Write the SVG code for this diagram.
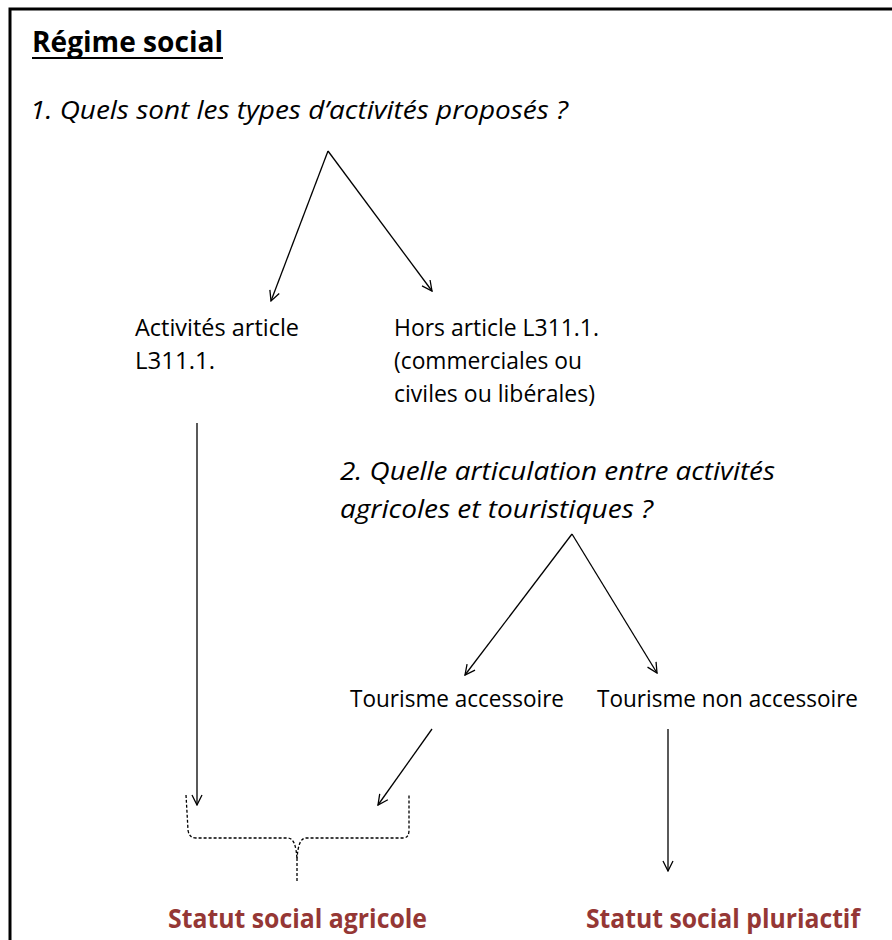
<svg xmlns="http://www.w3.org/2000/svg" width="892" height="940" viewBox="0 0 892 940">
<style>
text{font-family:"Open Sans","Liberation Sans",sans-serif;fill:#000}
.q{font-style:italic;font-size:26px}
.n{font-size:23px}
.r{font-weight:bold;font-size:27px;fill:#953735}
.c{stroke:#000;stroke-width:1.3;fill:none;marker-end:url(#ah)}
</style>
<defs>
<marker id="ah" viewBox="0 0 12 12" refX="11" refY="6" markerWidth="12" markerHeight="12" markerUnits="userSpaceOnUse" orient="auto">
<path d="M1,1 L11,6 L1,11" fill="none" stroke="#000" stroke-width="1.3"/>
</marker>
</defs>
<rect width="892" height="940" fill="#fff"/>
<path d="M10,940 V9 H892" fill="none" stroke="#000" stroke-width="3"/>
<g id="title">
<text x="32" y="52" font-size="28" font-weight="bold" textLength="191" lengthAdjust="spacingAndGlyphs">Régime social</text>
<line x1="32" y1="58" x2="223" y2="58" stroke="#000" stroke-width="2"/>
</g>
<g id="q1"><text class="q" x="30" y="119" textLength="538" lengthAdjust="spacingAndGlyphs">1. Quels sont les types d’activités proposés ?</text></g>
<g id="n-art">
<text class="n" x="135" y="336" textLength="164" lengthAdjust="spacingAndGlyphs">Activités article</text>
<text class="n" x="135" y="369" textLength="80" lengthAdjust="spacingAndGlyphs">L311.1.</text>
</g>
<g id="n-hors">
<text class="n" x="394" y="336" textLength="205" lengthAdjust="spacingAndGlyphs">Hors article L311.1.</text>
<text class="n" x="394" y="369" textLength="188" lengthAdjust="spacingAndGlyphs">(commerciales ou</text>
<text class="n" x="394" y="402" textLength="201" lengthAdjust="spacingAndGlyphs">civiles ou libérales)</text>
</g>
<g id="q2">
<text class="q" x="340" y="480" textLength="435" lengthAdjust="spacingAndGlyphs">2. Quelle articulation entre activités</text>
<text class="q" x="340" y="518" textLength="313" lengthAdjust="spacingAndGlyphs">agricoles et touristiques ?</text>
</g>
<g id="n-acc"><text class="n" x="350" y="707" textLength="214" lengthAdjust="spacingAndGlyphs">Tourisme accessoire</text></g>
<g id="n-nonacc"><text class="n" x="597" y="707" textLength="261" lengthAdjust="spacingAndGlyphs">Tourisme non accessoire</text></g>
<g id="r-agri"><text class="r" x="168" y="928" textLength="259" lengthAdjust="spacingAndGlyphs">Statut social agricole</text></g>
<g id="r-pluri"><text class="r" x="586" y="928" textLength="274" lengthAdjust="spacingAndGlyphs">Statut social pluriactif</text></g>
<g id="connectors">
<line class="c" x1="328" y1="151" x2="271" y2="301"/>
<line class="c" x1="328" y1="151" x2="432" y2="291"/>
<line class="c" x1="197" y1="423" x2="197" y2="805"/>
<line class="c" x1="572" y1="534" x2="465" y2="675"/>
<line class="c" x1="572" y1="534" x2="657" y2="673"/>
<line class="c" x1="432" y1="729" x2="378" y2="805"/>
<line class="c" x1="668" y1="729" x2="668" y2="871"/>
<path d="M186,795 Q187,812 188,830 Q189,838 196,838 H288 Q296,838 297,860 Q298,838 306,838 H403 Q409,838 409,830 V795 M297,858 V883" fill="none" stroke="#000" stroke-width="1.3" stroke-dasharray="3,2"/>
</g>
</svg>
